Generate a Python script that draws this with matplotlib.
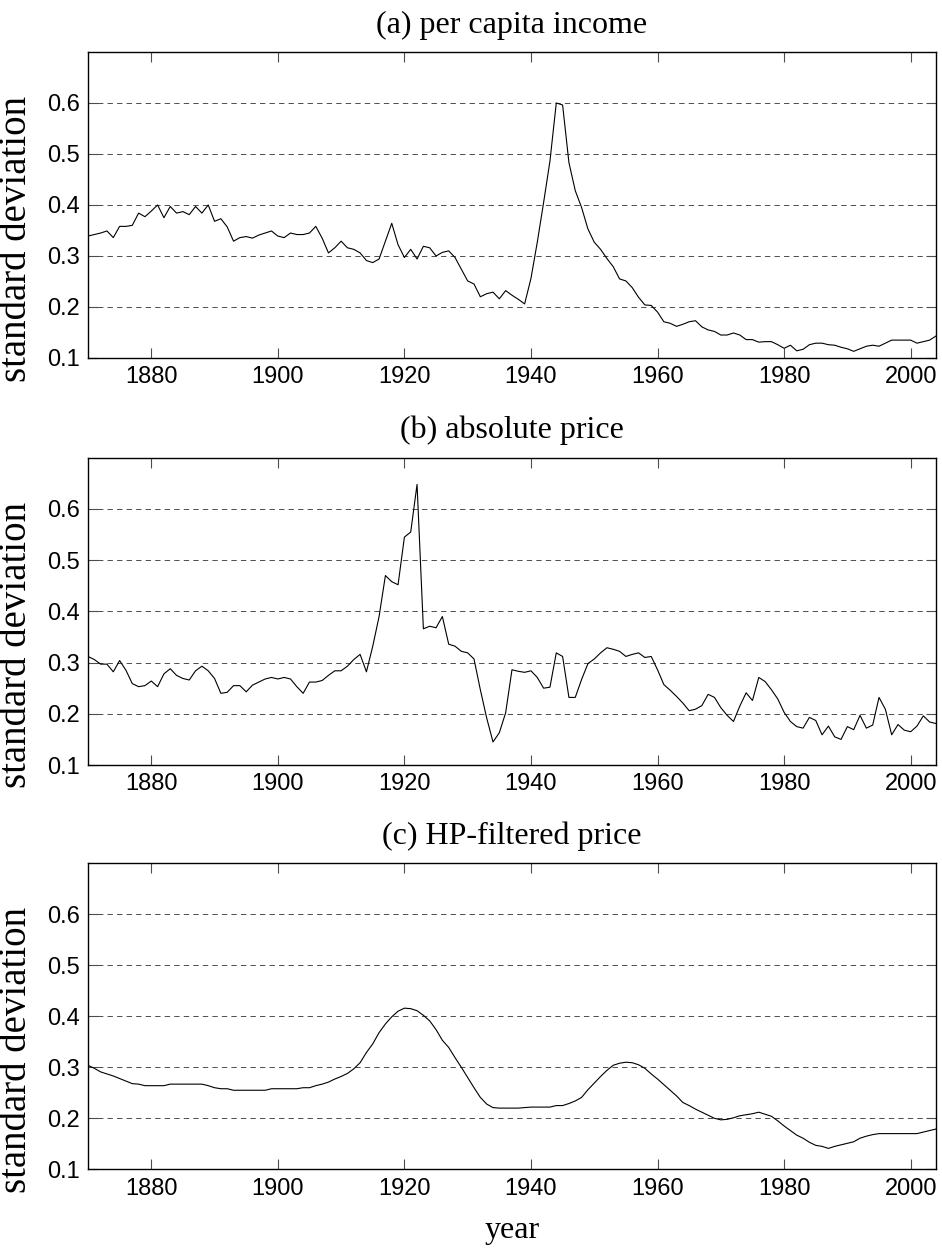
import numpy as np
import matplotlib
matplotlib.use("Agg")
import matplotlib.pyplot as plt

years = np.arange(1870, 2005)

# (a) per capita income
income = [0.339, 0.342, 0.345, 0.349, 0.336, 0.358, 0.358, 0.360, 0.384, 0.377,
          0.388, 0.400, 0.375, 0.397, 0.384, 0.387, 0.381, 0.397, 0.384, 0.400,
          0.368, 0.373, 0.357, 0.329, 0.336, 0.338, 0.335, 0.341, 0.345, 0.349,
          0.339, 0.336, 0.345, 0.342, 0.342, 0.345, 0.358, 0.335, 0.306, 0.316,
          0.329, 0.316, 0.313, 0.306, 0.291, 0.287, 0.294, 0.329, 0.364, 0.322,
          0.297, 0.313, 0.294, 0.319, 0.316, 0.300, 0.307, 0.310, 0.297, 0.274,
          0.251, 0.245, 0.220, 0.226, 0.229, 0.216, 0.232, 0.223, 0.215, 0.206,
          0.256, 0.327, 0.405, 0.486, 0.600, 0.596, 0.483, 0.428, 0.395, 0.353,
          0.327, 0.313, 0.295, 0.279, 0.255, 0.251, 0.238, 0.219, 0.204, 0.203,
          0.190, 0.171, 0.168, 0.162, 0.166, 0.171, 0.173, 0.161, 0.155, 0.152,
          0.145, 0.145, 0.149, 0.145, 0.136, 0.136, 0.131, 0.132, 0.132, 0.126,
          0.119, 0.125, 0.114, 0.117, 0.126, 0.129, 0.129, 0.126, 0.125, 0.121,
          0.118, 0.113, 0.118, 0.123, 0.125, 0.123, 0.129, 0.135, 0.135, 0.135,
          0.135, 0.129, 0.132, 0.135, 0.143]

# (b) absolute price
abs_price = [0.312, 0.306, 0.297, 0.297, 0.282, 0.304, 0.285, 0.259, 0.253, 0.255,
             0.264, 0.253, 0.278, 0.288, 0.275, 0.269, 0.266, 0.284, 0.293, 0.284,
             0.269, 0.240, 0.242, 0.255, 0.255, 0.243, 0.256, 0.262, 0.268, 0.271,
             0.268, 0.271, 0.268, 0.253, 0.240, 0.262, 0.262, 0.265, 0.275, 0.284,
             0.284, 0.293, 0.306, 0.316, 0.282, 0.332, 0.390, 0.470, 0.458, 0.452,
             0.545, 0.555, 0.648, 0.366, 0.371, 0.368, 0.390, 0.336, 0.332, 0.322,
             0.319, 0.307, 0.247, 0.192, 0.145, 0.163, 0.202, 0.286, 0.283, 0.281,
             0.284, 0.271, 0.250, 0.252, 0.319, 0.312, 0.232, 0.232, 0.267, 0.298,
             0.307, 0.319, 0.329, 0.326, 0.322, 0.312, 0.316, 0.319, 0.310, 0.312,
             0.286, 0.257, 0.246, 0.234, 0.221, 0.206, 0.209, 0.216, 0.238, 0.232,
             0.212, 0.197, 0.185, 0.215, 0.241, 0.226, 0.271, 0.263, 0.247, 0.229,
             0.203, 0.185, 0.175, 0.172, 0.193, 0.187, 0.159, 0.176, 0.155, 0.150,
             0.175, 0.169, 0.197, 0.172, 0.178, 0.232, 0.209, 0.159, 0.179, 0.168,
             0.165, 0.176, 0.196, 0.184, 0.181]

# (c) HP-filtered price
hp_price = [0.304, 0.298, 0.291, 0.287, 0.283, 0.278, 0.273, 0.268, 0.267, 0.264,
            0.264, 0.264, 0.264, 0.267, 0.267, 0.267, 0.267, 0.267, 0.267, 0.264,
            0.260, 0.258, 0.258, 0.255, 0.255, 0.255, 0.255, 0.255, 0.255, 0.258,
            0.258, 0.258, 0.258, 0.258, 0.260, 0.260, 0.264, 0.267, 0.271, 0.277,
            0.282, 0.288, 0.297, 0.309, 0.329, 0.346, 0.368, 0.385, 0.399, 0.410,
            0.416, 0.415, 0.411, 0.402, 0.391, 0.374, 0.353, 0.339, 0.319, 0.300,
            0.280, 0.260, 0.241, 0.228, 0.221, 0.220, 0.220, 0.220, 0.220, 0.221,
            0.222, 0.222, 0.222, 0.222, 0.225, 0.225, 0.229, 0.234, 0.241, 0.256,
            0.269, 0.282, 0.294, 0.304, 0.308, 0.310, 0.309, 0.305, 0.298, 0.287,
            0.277, 0.266, 0.255, 0.244, 0.231, 0.225, 0.218, 0.212, 0.206, 0.200,
            0.197, 0.198, 0.201, 0.205, 0.207, 0.209, 0.212, 0.208, 0.204, 0.195,
            0.185, 0.176, 0.167, 0.161, 0.153, 0.147, 0.145, 0.141, 0.145, 0.148,
            0.151, 0.154, 0.161, 0.165, 0.168, 0.170, 0.170, 0.170, 0.170, 0.170,
            0.170, 0.170, 0.173, 0.176, 0.179]

titles = ["(a) per capita income", "(b) absolute price", "(c) HP-filtered price"]
series = [income, abs_price, hp_price]
xticks = [1880, 1900, 1920, 1940, 1960, 1980, 2000]
yticks = [0.1, 0.2, 0.3, 0.4, 0.5, 0.6]

serif = "Liberation Serif"
sans = "Liberation Sans"

fig = plt.figure(figsize=(9.42, 12.49), dpi=100)
# [left, bottom, width, height] in figure fractions
positions = [[0.0934, 0.7134, 0.9002, 0.245],
             [0.0934, 0.3875, 0.9002, 0.246],
             [0.0934, 0.0638, 0.9002, 0.245]]

for i, pos in enumerate(positions):
    ax = fig.add_axes(pos)
    for yv in yticks[1:]:
        ax.axhline(yv, color="0.3", lw=0.7, dashes=(5.5, 4.3), zorder=1)
    ax.plot(years, series[i], color="black", lw=0.8, zorder=2)
    ax.set_xlim(1870, 2004)
    ax.set_ylim(0.1, 0.7)
    ax.set_xticks(xticks)
    ax.set_yticks(yticks)
    ax.set_yticklabels(["%.1f" % v for v in yticks])
    ax.tick_params(direction="in", length=7, width=0.8, color="0.3",
                   top=True, right=True, labelsize=17, pad=6)
    for lab in ax.get_xticklabels() + ax.get_yticklabels():
        lab.set_fontfamily(sans)
    for sp in ax.spines.values():
        sp.set_linewidth(1.0)
    ax.set_title(titles[i], fontsize=23, family=serif, pad=14)
    ax.set_ylabel("standard deviation", fontsize=28, family=serif)
    ax.yaxis.set_label_coords(-0.062, 0.39)
    if i == 2:
        ax.set_xlabel("year", fontsize=23, family=serif, labelpad=12)

fig.savefig("out.png", dpi=100)
